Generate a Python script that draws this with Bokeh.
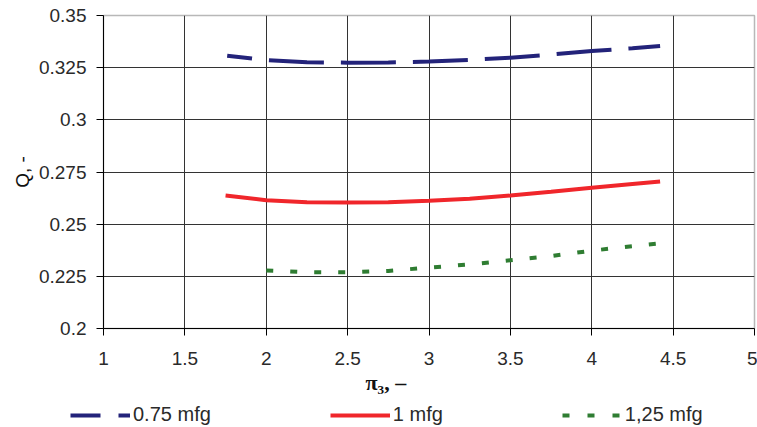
from bokeh.plotting import figure
from bokeh.layouts import column
from bokeh.models import Legend, LegendItem, Title, FixedTicker, Plot
from bokeh.embed import file_html
from bokeh.resources import INLINE

# ---- data ----
x_075 = [1.76, 2.0, 2.25, 2.5, 2.75, 3.0, 3.25, 3.5, 3.75, 4.0, 4.25, 4.42]
q_075 = [0.3307, 0.3286, 0.3276, 0.3274, 0.3275, 0.3279, 0.3287, 0.3298, 0.3313, 0.3330, 0.3343, 0.3354]

x_100 = [1.75, 2.0, 2.25, 2.5, 2.75, 3.0, 3.25, 3.5, 3.75, 4.0, 4.25, 4.42]
q_100 = [0.2637, 0.2615, 0.2605, 0.2604, 0.2605, 0.2612, 0.2622, 0.2637, 0.2655, 0.2675, 0.2693, 0.2705]

x_125 = [2.0, 2.25, 2.5, 2.75, 3.0, 3.25, 3.5, 3.75, 4.0, 4.25, 4.42]
q_125 = [0.2278, 0.2270, 0.2269, 0.2276, 0.2292, 0.2307, 0.2327, 0.2347, 0.2373, 0.2395, 0.2408]

series_labels = ["0.75 mfg", "1 mfg", "1,25 mfg"]
x_ticks = [1, 1.5, 2, 2.5, 3, 3.5, 4, 4.5, 5]
x_tick_labels = ["1", "1.5", "2", "2.5", "3", "3.5", "4", "4.5", "5"]
y_ticks = [0.2, 0.225, 0.25, 0.275, 0.3, 0.325, 0.35]
y_tick_labels = ["0.2", "0.225", "0.25", "0.275", "0.3", "0.325", "0.35"]
x_title = "π₃, –"
y_title = "Q, -"

FONT = "Liberation Sans"
TXT = "#2a2a2a"
BLUE = "#23237a"
RED = "#f0262b"
GREEN = "#2f7d32"

p = figure(width=757, height=400, output_backend="svg", toolbar_location=None,
           x_range=(1, 5), y_range=(0.2, 0.35),
           min_border_left=103, min_border_right=3, min_border_top=15, min_border_bottom=72)

p.outline_line_color = "#b8b8b8"
p.outline_line_width = 1.5

for ax in (p.xaxis[0], p.yaxis[0]):
    ax.axis_line_color = "black"
    ax.major_tick_line_color = "black"
    ax.major_tick_out = 7
    ax.major_tick_in = 0
    ax.minor_tick_out = 0
    ax.minor_tick_in = 0
    ax.major_label_text_font = FONT
    ax.major_label_text_font_size = "19px"
    ax.major_label_text_color = TXT

p.xaxis.ticker = FixedTicker(ticks=x_ticks)
p.xaxis.major_label_overrides = {t: l for t, l in zip(x_ticks, x_tick_labels)}
p.xaxis.major_label_standoff = 16
p.yaxis.ticker = FixedTicker(ticks=y_ticks)
p.yaxis.major_label_overrides = {t: l for t, l in zip(y_ticks, y_tick_labels)}
p.yaxis.major_label_standoff = 10

p.yaxis.axis_label = y_title
p.yaxis.axis_label_text_font = FONT
p.yaxis.axis_label_text_font_size = "19px"
p.yaxis.axis_label_text_font_style = "normal"
p.yaxis.axis_label_text_color = "#111111"
p.yaxis.axis_label_standoff = 3

p.xgrid.ticker = FixedTicker(ticks=x_ticks[1:-1])
p.ygrid.ticker = FixedTicker(ticks=y_ticks[1:-1])
p.xgrid.grid_line_color = "#333333"
p.ygrid.grid_line_color = "#333333"
p.xgrid.grid_line_width = 1
p.ygrid.grid_line_width = 1

p.line(x_075, q_075, line_color=BLUE, line_width=4, line_dash="55 17", line_dash_offset=30)
p.line(x_100, q_100, line_color=RED, line_width=4)
p.line(x_125, q_125, line_color=GREEN, line_width=4, line_dash="7 17")

# x title below the axis, shifted left like the reference
xt = Title(text=x_title, align="left", offset=262, standoff=0,
           text_font="Liberation Serif", text_font_style="bold", text_font_size="22px",
           text_color="#111111")
p.add_layout(xt, "below")

# ---- legend strip (separate small figure so the legend can sit freely) ----
# its ranges keep the (legend-only) copies of the series out of view
lg = figure(width=757, height=27, output_backend="svg", toolbar_location=None,
            x_axis_type=None, y_axis_type=None, x_range=(10, 11), y_range=(10, 11),
            min_border_left=0, min_border_right=0, min_border_top=0, min_border_bottom=0)
lg.outline_line_color = None
lg.xgrid.visible = False
lg.ygrid.visible = False

can_unalign = "frame_align" in Plot.properties()
if can_unalign:
    p.frame_align = False
    lg.frame_align = False
    leg_loc = (70, 1)
    leg_spacing = 119
else:
    leg_loc = (0, 1)
    leg_spacing = 102

r1 = lg.line(x_075, q_075, line_color=BLUE, line_width=4, line_dash="30 18")
r2 = lg.line(x_100, q_100, line_color=RED, line_width=4)
r3 = lg.line(x_125, q_125, line_color=GREEN, line_width=4, line_dash="7 18")

legend = Legend(items=[LegendItem(label=series_labels[0], renderers=[r1]),
                       LegendItem(label=series_labels[1], renderers=[r2]),
                       LegendItem(label=series_labels[2], renderers=[r3])],
                orientation="horizontal", location=leg_loc,
                glyph_width=60, glyph_height=20, label_standoff=3, spacing=leg_spacing,
                padding=0, margin=0, border_line_color=None, background_fill_alpha=0,
                label_text_font=FONT, label_text_font_size="20px", label_text_color=TXT)
lg.add_layout(legend, "center")

layout = column(p, lg, spacing=0)
open("out.html", "w").write(file_html(layout, INLINE))
